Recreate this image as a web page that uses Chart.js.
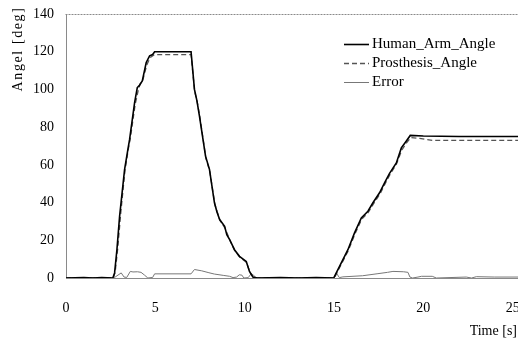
<!DOCTYPE html>
<html>
<head>
<meta charset="utf-8">
<script src="https://cdn.jsdelivr.net/npm/chart.js@4/dist/chart.umd.min.js"></script>
<style>
  html, body { margin: 0; padding: 0; background: #fff; }
  #wrap { width: 518px; height: 339px; position: relative; }
</style>
</head>
<body>
<div id="wrap"><canvas id="c"></canvas></div>
<script>
// ---- data ----
const xTickValues = [0, 5, 10, 15, 20, 25];
const yTickValues = [0, 20, 40, 60, 80, 100, 120, 140];
const seriesNames = ['Human_Arm_Angle', 'Prosthesis_Angle', 'Error'];

const humanT = [0, 1.0, 1.5, 2.0, 2.62, 2.72, 2.85, 3.0, 3.28, 3.46, 3.56, 3.84, 3.99, 4.1, 4.27, 4.49, 4.68, 4.85, 4.96,
  7.0, 7.19, 7.33, 7.47, 7.81, 8.03, 8.31, 8.45, 8.6, 8.88, 9.0, 9.16, 9.43, 9.71, 10.09, 10.27, 10.46, 10.7,
  12.0, 13.0, 14.0, 14.98, 15.03, 15.31, 15.78, 16.15, 16.53, 16.9, 17.18, 17.55, 17.83, 18.11, 18.49, 18.77, 19.0, 19.27,
  20.0, 22.0, 25.3];
const humanV = [0, 0.3, 0, 0.3, 0, 2.7, 15, 32.7, 57.6, 68, 73.5, 93, 101, 102, 104.5, 114.3, 117.8, 118.5, 120,
  120, 100, 93.9, 85.9, 64.6, 57.6, 39.9, 35, 31, 27.4, 23, 20.4, 15, 11.5, 8.8, 3.5, 0.5, 0,
  0.2, 0, 0.2, 0, 0.9, 6.2, 15, 23.9, 31.9, 35.4, 39.9, 45.2, 50.5, 55.5, 61, 69, 72, 75.6,
  75.3, 75, 75];

const prosT = [0, 2.65, 2.75, 2.9, 3.05, 3.3, 3.5, 3.6, 3.87, 4.03, 4.15, 4.3, 4.52, 4.72, 4.96,
  7.0, 7.2, 7.35, 7.5, 7.83, 8.05, 8.33, 8.62, 8.9, 9.18, 9.45, 9.73, 10.1, 10.3, 10.5, 10.75,
  15.0, 15.05, 15.33, 15.8, 16.17, 16.55, 16.92, 17.2, 17.57, 17.85, 18.13, 18.5, 18.8, 19.05, 19.3, 19.8, 20.5, 25.3];
const prosV = [0, 0, 3, 16, 33, 57, 69, 74, 92, 99, 103, 105, 113, 117, 118.5,
  118.5, 99, 93, 85, 63.5, 56.5, 39, 30.5, 26.5, 19.8, 14.5, 11, 8.3, 3, 0.3, 0,
  0, 0.6, 5.8, 14.5, 23.3, 31.2, 34.8, 39.2, 44.5, 49.8, 54.8, 60.5, 68, 71.5, 74.5, 74, 73, 73];

const errT = [0, 2.6, 2.75, 3.09, 3.25, 3.4, 3.6, 3.75, 4.0, 4.2, 4.4, 4.58, 4.85, 4.96,
  7.0, 7.19, 7.6, 8.0, 8.3, 8.8, 9.16, 9.35, 9.55, 9.7, 9.85, 9.95, 10.2, 10.37, 10.5, 10.65,
  15.0, 15.13, 15.3, 15.5, 16.6, 17.46, 18.0, 18.3, 18.9, 19.14, 19.25, 19.4, 19.7, 19.9, 20.5, 20.73,
  22.4, 22.7, 22.97, 24.0, 25.3];
const errV = [0, 0, 0.5, 2.7, 0.5, 0.3, 3.5, 3.2, 3.3, 3, 1.5, 0, 0.3, 2.2,
  2.2, 4.5, 3.8, 2.8, 2.1, 1.4, 0.9, 0.2, 0.5, 1.7, 1.5, 0, 0.2, 2.3, 1.5, 0,
  0, 2.7, 0.2, 0.6, 1.2, 2.3, 3, 3.5, 3.3, 3, 0.5, 0, 0.5, 0.9, 0.9, 0,
  0.5, 0, 0.7, 0.5, 0.5];

const toPts = (ts, vs) => ts.map((t, i) => ({ x: t, y: vs[i] }));

const SERIF = '"Liberation Serif", "DejaVu Serif", serif';

const decorPlugin = {
  id: 'decor',
  beforeDatasetsDraw(chart) {
    const { ctx, chartArea: a } = chart;
    ctx.save();
    ctx.strokeStyle = '#8a8a8a';
    ctx.lineWidth = 1;
    ctx.setLineDash([2, 1]);
    ctx.beginPath();
    ctx.moveTo(a.left - 0.5, a.top + 0.5);
    ctx.lineTo(a.right, a.top + 0.5);
    ctx.stroke();
    ctx.restore();
  },
  afterDraw(chart) {
    const { ctx } = chart;
    ctx.save();
    // y-axis title
    ctx.fillStyle = '#000';
    ctx.font = '14px ' + SERIF;
    ctx.translate(18, 49);
    ctx.rotate(-Math.PI / 2);
    ctx.textAlign = 'center';
    ctx.textBaseline = 'middle';
    try { ctx.letterSpacing = '1.6px'; } catch (e) {}
    ctx.fillText('Angel [deg]', 0, 0);
    ctx.restore();

    ctx.save();
    ctx.fillStyle = '#000';
    ctx.font = '14px ' + SERIF;
    ctx.textAlign = 'right';
    ctx.textBaseline = 'middle';
    ctx.fillText('Time [s]', 517, 331);
    ctx.restore();

    // legend
    ctx.save();
    const rows = [44, 63, 82];
    chart.data.datasets.forEach((ds, i) => {
      const y = rows[i] + 0.5;
      ctx.strokeStyle = ds.borderColor;
      ctx.lineWidth = ds.borderWidth;
      ctx.setLineDash(ds.borderDash || []);
      ctx.beginPath();
      ctx.moveTo(344, y);
      ctx.lineTo(369, y);
      ctx.stroke();
      ctx.fillStyle = '#000';
      ctx.font = '15px ' + SERIF;
      ctx.textAlign = 'left';
      ctx.textBaseline = 'middle';
      ctx.fillText(ds.label, 372, rows[i]);
    });
    ctx.restore();
  }
};

new Chart(document.getElementById('c'), {
  type: 'line',
  data: {
    datasets: [
      { label: seriesNames[0], data: toPts(humanT, humanV), borderColor: '#000', borderWidth: 1.6,
        pointRadius: 0, tension: 0, fill: false },
      { label: seriesNames[1], data: toPts(prosT, prosV), borderColor: '#555', borderWidth: 1.3,
        borderDash: [5, 3], pointRadius: 0, tension: 0, fill: false },
      { label: seriesNames[2], data: toPts(errT, errV), borderColor: '#777', borderWidth: 1,
        pointRadius: 0, tension: 0, fill: false }
    ]
  },
  options: {
    responsive: true,
    maintainAspectRatio: false,
    animation: false,
    devicePixelRatio: 1,
    layout: { padding: { top: 14, right: 0, left: 0, bottom: 0 } },
    plugins: { legend: { display: false }, tooltip: { enabled: false } },
    scales: {
      x: {
        type: 'linear', min: 0, max: 25.3,
        grid: { display: false, drawTicks: false },
        border: { display: true, color: '#8a8a8a', width: 1, dash: [2, 1] },
        ticks: { color: '#000', font: { family: SERIF, size: 14 }, padding: 22, maxRotation: 0 },
        afterBuildTicks(scale) { scale.ticks = xTickValues.map(v => ({ value: v })); },
        afterFit(scale) { scale.height = 61; scale.paddingLeft = 0; scale.paddingRight = 0; }
      },
      y: {
        type: 'linear', min: 0, max: 140,
        grid: { display: false, drawTicks: false },
        border: { display: true, color: '#8a8a8a', width: 1, dash: [2, 1] },
        ticks: { color: '#000', font: { family: SERIF, size: 14 }, padding: 12 },
        afterBuildTicks(scale) { scale.ticks = yTickValues.map(v => ({ value: v })); },
        afterFit(scale) { scale.width = 66; scale.paddingTop = 0; scale.paddingBottom = 0; }
      }
    }
  },
  plugins: [decorPlugin]
});
</script>
</body>
</html>
